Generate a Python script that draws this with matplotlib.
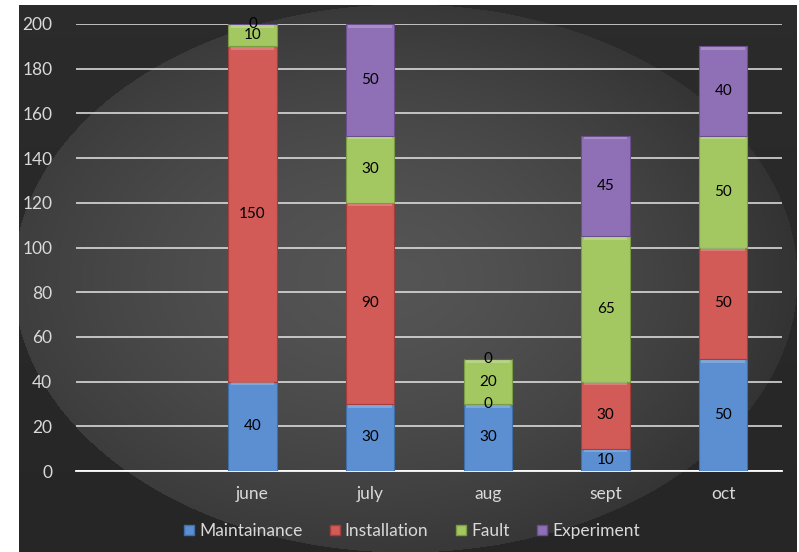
import numpy as np
import matplotlib
matplotlib.use("Agg")
import matplotlib.pyplot as plt
from matplotlib.lines import Line2D

plt.rcParams['font.family'] = ['Lato', 'DejaVu Sans']

# data (first slot has no label and no values)
months = ['', 'june', 'july', 'aug', 'sept', 'oct']
maintainance = [np.nan, 40, 30, 30, 10, 50]
installation = [np.nan, 150, 90, 0, 30, 50]
fault = [np.nan, 10, 30, 20, 65, 50]
experiment = [np.nan, 0, 50, 0, 45, 40]

series = [
    ('Maintainance', maintainance, '#5b8fd2', '#3f6ea8'),
    ('Installation', installation, '#d25a57', '#a43e3b'),
    ('Fault', fault, '#a3c862', '#7c9c43'),
    ('Experiment', experiment, '#8f70b6', '#6a4f8c'),
]

W, H = 799, 552
fig = plt.figure(figsize=(W / 100, H / 100), dpi=100)
fig.patch.set_facecolor('white')

# dark panel with a soft grey ellipse
yy, xx = np.mgrid[0:H, 0:W]
bg = np.ones((H, W, 3))
panel = (xx >= 19) & (xx <= 796) & (yy >= 5)
base = 0.15 + 0.02 * (1 - yy / H)
cx, cy, rx, ry = 405, 278, 392, 274
r = np.sqrt(((xx - cx) / rx) ** 2 + ((yy - cy) / ry) ** 2)
ell = r <= 1.0
shade = np.where(ell, 0.34 - 0.11 * r ** 1.5 - 0.03 * (xx - 250) / 550, base)
for c in range(3):
    bg[..., c] = np.where(panel, shade, 1.0)
bax = fig.add_axes([0, 0, 1, 1])
bax.imshow(bg, aspect='auto', interpolation='bilinear')
bax.set_axis_off()

ax = fig.add_axes([76 / W, (H - 471) / H, 706 / W, 447 / H])
ax.set_facecolor('none')
x = np.arange(len(months))
bottom = np.zeros(len(months))
for name, vals, col, edge in series:
    v = np.array(vals, dtype=float)
    bars = ax.bar(x, v, 0.41, bottom=bottom, color=col, edgecolor=edge,
                  linewidth=0.8, zorder=3)
    # lighter bevel along each segment's top
    ax.bar(x, np.where(v > 1.5, 1.2, 0), 0.41 * 0.9, bottom=bottom + v - 1.6,
           color='white', alpha=0.22, linewidth=0, zorder=4)
    labels = ['' if np.isnan(a) else f'{a:g}' for a in v]
    ax.bar_label(bars, labels=labels, label_type='center', fontsize=11,
                 color='black', zorder=5)
    bottom = bottom + np.nan_to_num(v)

ax.set_xlim(-0.5, len(months) - 0.5)
ax.set_ylim(0, 200)
ax.set_yticks(np.arange(0, 201, 20))
ax.set_xticks(x)
ax.set_xticklabels(months)
ax.yaxis.grid(True, color='#e6e6e6', linewidth=1.1, zorder=1)
ax.set_axisbelow(True)
for s in ['top', 'right', 'left']:
    ax.spines[s].set_visible(False)
ax.spines['bottom'].set_color('white')
ax.spines['bottom'].set_linewidth(1.3)
ax.tick_params(length=0, colors='#d9d9d9', labelsize=12.5)
ax.tick_params(axis='y', pad=17)
ax.tick_params(axis='x', pad=11)

handles = [Line2D([], [], marker='s', linestyle='none', markersize=7.5,
                  markerfacecolor=col, markeredgecolor=edge)
           for _, _, col, edge in series]
names = ['Maintainance', 'Installation', 'Fault', 'Experiment']
fig.legend(handles, names, loc='center', bbox_to_anchor=(411 / W, (H - 531) / H),
           ncol=4, frameon=False, fontsize=12.5, labelcolor='#d9d9d9',
           handletextpad=0.15, columnspacing=1.5, handlelength=0.8)

fig.savefig('out.png', dpi=100)
